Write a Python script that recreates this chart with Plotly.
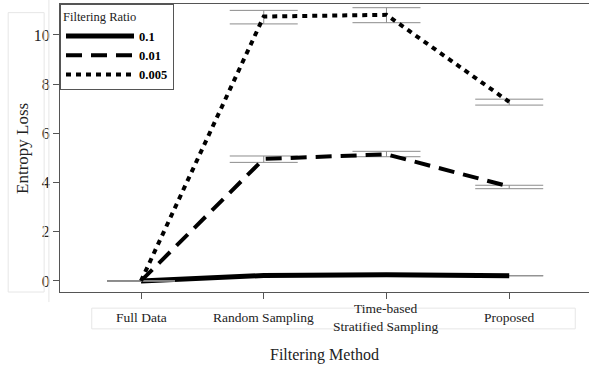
import plotly.graph_objects as go

methods = ["Full Data", "Random Sampling", "Time-based<br>Stratified Sampling", "Proposed"]
ratios = ["0.1", "0.01", "0.005"]
loss_01 = [0.0, 0.22, 0.25, 0.21]
loss_001 = [0.0, 4.96, 5.15, 3.84]
loss_0005 = [0.0, 10.75, 10.82, 7.28]
err_up_01 = [0.0, 0.0, 0.0, 0.0]
err_dn_01 = [0.0, 0.0, 0.0, 0.0]
err_up_001 = [0.0, 0.12, 0.12, 0.05]
err_dn_001 = [0.0, 0.14, 0.10, 0.09]
err_up_0005 = [0.0, 0.25, 0.29, 0.11]
err_dn_0005 = [0.0, 0.30, 0.32, 0.13]
y_ticks = [0, 2, 4, 6, 8, 10]

series = [
    (ratios[0], loss_01, err_up_01, err_dn_01, "solid", 5),
    (ratios[1], loss_001, err_up_001, err_dn_001, "16px,9px", 4),
    (ratios[2], loss_0005, err_up_0005, err_dn_0005, "5px,5px", 4),
]

serif = "Liberation Serif"
xs = list(range(len(methods)))
fig = go.Figure()
for name, vals, eu, ed, dash, w in series:
    fig.add_trace(go.Scatter(
        x=xs, y=vals, name=name, mode="lines",
        line=dict(color="black", width=w, dash=dash),
        error_y=dict(type="data", symmetric=False, array=eu, arrayminus=ed,
                     color="#8c8c8c", thickness=1, width=34, visible=True),
    ))

annotations = []
for i, m in enumerate(methods):
    annotations.append(dict(x=i, y=-0.087, xref="x", yref="paper", text=m,
                            showarrow=False, yanchor="middle", xanchor="center",
                            font=dict(family=serif, size=13.5, color="#222")))
annotations.append(dict(x=0.5, y=-0.22, xref="paper", yref="paper", xanchor="center",
                        yanchor="middle", text="Filtering Method", showarrow=False,
                        font=dict(family=serif, size=16, color="#222")))
annotations.append(dict(x=-0.072, y=0.5, xref="paper", yref="paper", xanchor="center",
                        yanchor="middle", text="Entropy Loss", showarrow=False, textangle=-90,
                        font=dict(family=serif, size=17, color="#222")))

shapes = [
    dict(type="rect", xref="paper", yref="paper", x0=0.06, x1=0.974, y0=-0.056, y1=-0.128,
         line=dict(color="#e6e6e6", width=1)),
    dict(type="rect", xref="paper", yref="paper", x0=-0.098, x1=-0.03, y0=0.0, y1=0.97,
         line=dict(color="#e6e6e6", width=1)),
    dict(type="line", xref="paper", yref="paper", x0=-0.021, x1=-0.021, y0=-0.035, y1=1.02,
         line=dict(color="#e6e6e6", width=1)),
]

fig.update_layout(
    width=589, height=368,
    margin=dict(l=60, r=0, t=4, b=76, autoexpand=False),
    paper_bgcolor="white", plot_bgcolor="white",
    font=dict(family=serif, color="#222"),
    showlegend=True,
    legend=dict(x=0, y=1, xanchor="left", yanchor="top",
                bordercolor="#555", borderwidth=1, bgcolor="white",
                title=dict(text="Filtering Ratio",
                           font=dict(family=serif, size=12.5, color="#222", weight="normal"),
                           side="top"),
                font=dict(family=serif, size=12.5, color="black", weight="bold"),
                itemwidth=68, tracegroupgap=0),
    xaxis=dict(range=[-0.66, 3.65], tickvals=xs, ticktext=["", "", "", ""], automargin=False,
               showgrid=False, zeroline=False, showline=True, linecolor="#555",
               linewidth=1, mirror=True, ticks="outside", ticklen=6, tickcolor="#555"),
    yaxis=dict(range=[-0.45, 11.26], tickvals=y_ticks, showgrid=False, zeroline=False,
               automargin=False,
               showline=True, linecolor="#555", linewidth=1, ticks="outside",
               ticklen=6, tickcolor="#555", tickfont=dict(family=serif, size=16, color="#222")),
    annotations=annotations, shapes=shapes,
)

fig.write_html("out.html", config={"displayModeBar": False},
               post_script="document.body.style.margin='0';document.body.style.overflow='hidden';")
